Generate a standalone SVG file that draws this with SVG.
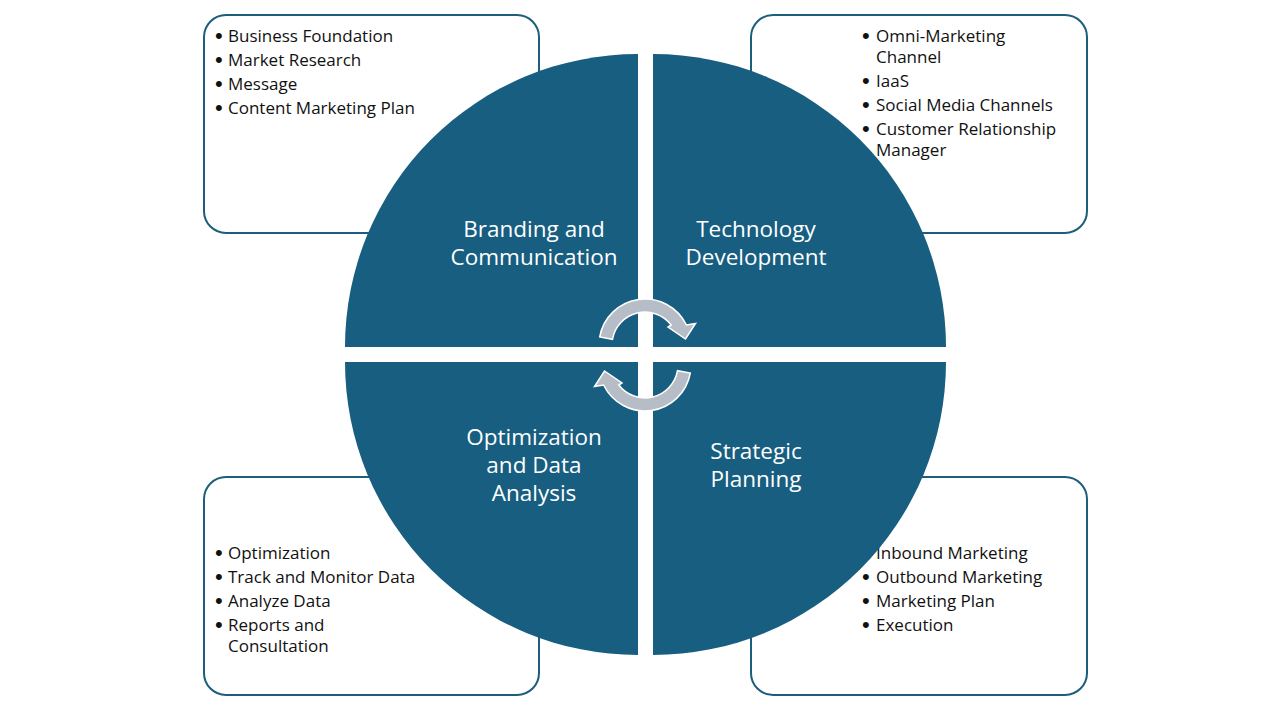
<svg xmlns="http://www.w3.org/2000/svg" width="1280" height="720" viewBox="0 0 1280 720">
<style>
.box{fill:#ffffff;stroke:#1c5e7b;stroke-width:2}
.q{fill:#175e80}
.lbl{font-family:"Open Sans","Liberation Sans",sans-serif;font-size:22.5px;fill:#ffffff;text-anchor:middle}
.bt{font-family:"Open Sans","Liberation Sans",sans-serif;font-size:17px;fill:#111111}
.b{font-size:22px;font-family:"Liberation Sans",sans-serif}
.arr{fill:#b6bdc7;stroke:#ffffff;stroke-width:1.5;stroke-linejoin:miter}
</style>
<rect width="1280" height="720" fill="#ffffff"/>
<g id="box-tl">
<rect class="box" x="204" y="15" width="335" height="218" rx="22"/>
<text class="bt"><tspan class="b" x="215" y="43">•</tspan><tspan x="228" y="42">Business Foundation</tspan><tspan class="b" x="215" y="67">•</tspan><tspan x="228" y="66">Market Research</tspan><tspan class="b" x="215" y="91">•</tspan><tspan x="228" y="90">Message</tspan><tspan class="b" x="215" y="115">•</tspan><tspan x="228" y="114">Content Marketing Plan</tspan></text>
</g>
<g id="box-tr">
<rect class="box" x="751" y="15" width="336" height="218" rx="22"/>
<text class="bt"><tspan class="b" x="862" y="43">•</tspan><tspan x="876" y="42">Omni-Marketing</tspan><tspan x="876" y="63">Channel</tspan><tspan class="b" x="862" y="88">•</tspan><tspan x="876" y="87">IaaS</tspan><tspan class="b" x="862" y="112">•</tspan><tspan x="876" y="111">Social Media Channels</tspan><tspan class="b" x="862" y="136">•</tspan><tspan x="876" y="135">Customer Relationship</tspan><tspan x="876" y="156">Manager</tspan></text>
</g>
<g id="box-bl">
<rect class="box" x="204" y="477" width="335" height="218" rx="22"/>
<text class="bt"><tspan class="b" x="215" y="560">•</tspan><tspan x="228" y="559">Optimization</tspan><tspan class="b" x="215" y="584">•</tspan><tspan x="228" y="583">Track and Monitor Data</tspan><tspan class="b" x="215" y="608">•</tspan><tspan x="228" y="607">Analyze Data</tspan><tspan class="b" x="215" y="632">•</tspan><tspan x="228" y="631">Reports and</tspan><tspan x="228" y="652">Consultation</tspan></text>
</g>
<g id="box-br">
<rect class="box" x="751" y="477" width="336" height="218" rx="22"/>
<text class="bt"><tspan class="b" x="862" y="560">•</tspan><tspan x="876" y="559">Inbound Marketing</tspan><tspan class="b" x="862" y="584">•</tspan><tspan x="876" y="583">Outbound Marketing</tspan><tspan class="b" x="862" y="608">•</tspan><tspan x="876" y="607">Marketing Plan</tspan><tspan class="b" x="862" y="632">•</tspan><tspan x="876" y="631">Execution</tspan></text>
</g>
<g id="q-branding">
<path class="q" d="M638,347 L345,347 A293,293 0 0 1 638,54 Z"/>
<text class="lbl"><tspan x="534" y="237">Branding and</tspan><tspan x="534" y="265">Communication</tspan></text>
</g>
<g id="q-technology">
<path class="q" d="M653,347 L653,54 A293,293 0 0 1 946,347 Z"/>
<text class="lbl"><tspan x="756" y="237">Technology</tspan><tspan x="756" y="265">Development</tspan></text>
</g>
<g id="q-strategic">
<path class="q" d="M653,362 L946,362 A293,293 0 0 1 653,655 Z"/>
<text class="lbl"><tspan x="756" y="459">Strategic</tspan><tspan x="756" y="487">Planning</tspan></text>
</g>
<g id="q-optimization">
<path class="q" d="M638,362 L638,655 A293,293 0 0 1 345,362 Z"/>
<text class="lbl"><tspan x="534" y="445">Optimization</tspan><tspan x="534" y="473">and Data</tspan><tspan x="534" y="501">Analysis</tspan></text>
</g>
<g id="connectors">
<path id="arrow-top" class="arr" d="M599.7,337 A46,46 0 0 1 686.4,325 L695.5,323.5 L685.5,339 L668,327 L671.2,325 A33,33 0 0 0 612.5,339.3 Z"/>
<path id="arrow-bottom" class="arr" d="M690.3,373 A46,46 0 0 1 603.6,385 L594.5,386.5 L604.5,371 L622,383 L618.8,385 A33,33 0 0 0 677.5,370.7 Z"/>
</g>
</svg>
